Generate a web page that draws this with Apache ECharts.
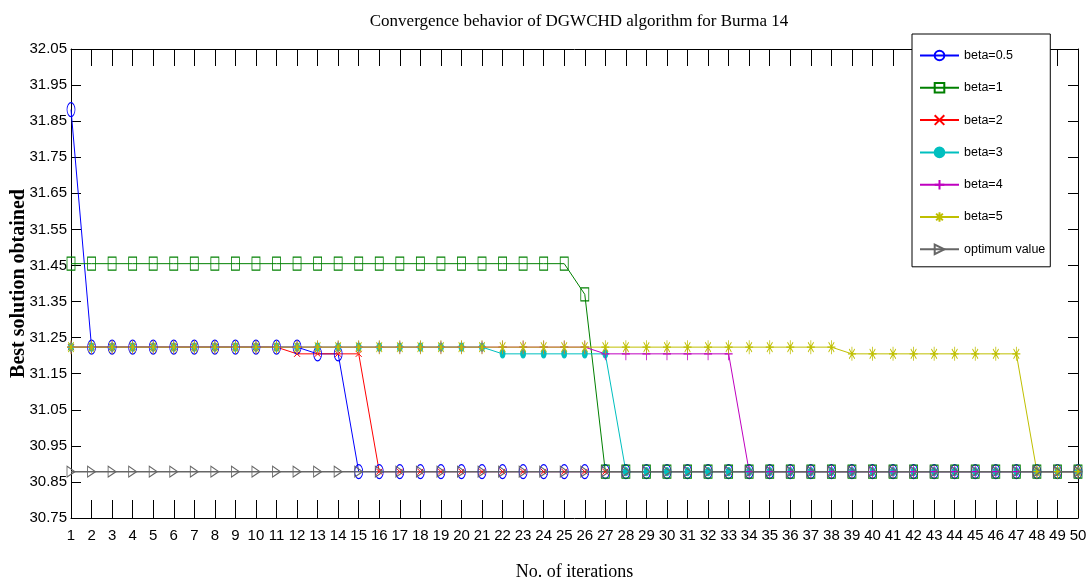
<!DOCTYPE html>
<html><head><meta charset="utf-8">
<script src="https://cdn.jsdelivr.net/npm/echarts@6/dist/echarts.min.js"></script>
<style>html,body{margin:0;padding:0;background:#fff}#c{width:1088px;height:582px}</style>
</head><body><div id="c"></div>
<script>
const iterations = [1,2,3,4,5,6,7,8,9,10,11,12,13,14,15,16,17,18,19,20,21,22,23,24,25,26,27,28,29,30,31,32,33,34,35,36,37,38,39,40,41,42,43,44,45,46,47,48,49,50];
const yTicks = [30.75,30.85,30.95,31.05,31.15,31.25,31.35,31.45,31.55,31.65,31.75,31.85,31.95,32.05];
const seriesNames = ['beta=0.5','beta=1','beta=2','beta=3','beta=4','beta=5','optimum value'];

const beta05 = [31.882,31.2236,31.2236,31.2236,31.2236,31.2236,31.2236,31.2236,31.2236,31.2236,31.2236,31.2236,31.205,31.205,30.8785,30.8785,30.8785,30.8785,30.8785,30.8785,30.8785,30.8785,30.8785,30.8785,30.8785,30.8785,30.8785,30.8785,30.8785,30.8785,30.8785,30.8785,30.8785,30.8785,30.8785,30.8785,30.8785,30.8785,30.8785,30.8785,30.8785,30.8785,30.8785,30.8785,30.8785,30.8785,30.8785,30.8785,30.8785,30.8785];
const beta1 = [31.455,31.455,31.455,31.455,31.455,31.455,31.455,31.455,31.455,31.455,31.455,31.455,31.455,31.455,31.455,31.455,31.455,31.455,31.455,31.455,31.455,31.455,31.455,31.455,31.455,31.37,30.8785,30.8785,30.8785,30.8785,30.8785,30.8785,30.8785,30.8785,30.8785,30.8785,30.8785,30.8785,30.8785,30.8785,30.8785,30.8785,30.8785,30.8785,30.8785,30.8785,30.8785,30.8785,30.8785,30.8785];
const beta2 = [31.2236,31.2236,31.2236,31.2236,31.2236,31.2236,31.2236,31.2236,31.2236,31.2236,31.2236,31.205,31.205,31.205,31.205,30.8785,30.8785,30.8785,30.8785,30.8785,30.8785,30.8785,30.8785,30.8785,30.8785,30.8785,30.8785,30.8785,30.8785,30.8785,30.8785,30.8785,30.8785,30.8785,30.8785,30.8785,30.8785,30.8785,30.8785,30.8785,30.8785,30.8785,30.8785,30.8785,30.8785,30.8785,30.8785,30.8785,30.8785,30.8785];
const beta3 = [31.2236,31.2236,31.2236,31.2236,31.2236,31.2236,31.2236,31.2236,31.2236,31.2236,31.2236,31.2236,31.2236,31.2236,31.2236,31.2236,31.2236,31.2236,31.2236,31.2236,31.2236,31.205,31.205,31.205,31.205,31.205,31.205,30.8785,30.8785,30.8785,30.8785,30.8785,30.8785,30.8785,30.8785,30.8785,30.8785,30.8785,30.8785,30.8785,30.8785,30.8785,30.8785,30.8785,30.8785,30.8785,30.8785,30.8785,30.8785,30.8785];
const beta4 = [31.2236,31.2236,31.2236,31.2236,31.2236,31.2236,31.2236,31.2236,31.2236,31.2236,31.2236,31.2236,31.2236,31.2236,31.2236,31.2236,31.2236,31.2236,31.2236,31.2236,31.2236,31.2236,31.2236,31.2236,31.2236,31.2236,31.205,31.205,31.205,31.205,31.205,31.205,31.205,30.8785,30.8785,30.8785,30.8785,30.8785,30.8785,30.8785,30.8785,30.8785,30.8785,30.8785,30.8785,30.8785,30.8785,30.8785,30.8785,30.8785];
const beta5 = [31.2236,31.2236,31.2236,31.2236,31.2236,31.2236,31.2236,31.2236,31.2236,31.2236,31.2236,31.2236,31.2236,31.2236,31.2236,31.2236,31.2236,31.2236,31.2236,31.2236,31.2236,31.2236,31.2236,31.2236,31.2236,31.2236,31.2236,31.2236,31.2236,31.2236,31.2236,31.2236,31.2236,31.2236,31.2236,31.2236,31.2236,31.2236,31.205,31.205,31.205,31.205,31.205,31.205,31.205,31.205,31.205,30.8785,30.8785,30.8785];
const optimum = [30.8785,30.8785,30.8785,30.8785,30.8785,30.8785,30.8785,30.8785,30.8785,30.8785,30.8785,30.8785,30.8785,30.8785,30.8785,30.8785,30.8785,30.8785,30.8785,30.8785,30.8785,30.8785,30.8785,30.8785,30.8785,30.8785,30.8785,30.8785,30.8785,30.8785,30.8785,30.8785,30.8785,30.8785,30.8785,30.8785,30.8785,30.8785,30.8785,30.8785,30.8785,30.8785,30.8785,30.8785,30.8785,30.8785,30.8785,30.8785,30.8785,30.8785];

const SANS = '"Liberation Sans",Arial,sans-serif';
const SERIF = '"Liberation Serif","Times New Roman",serif';

function mk(name, values, color, symbol, size, hollow, lw, rotate) {
  return {
    name: name, type: 'line', xAxisIndex: 0, yAxisIndex: 0,
    data: iterations.map((x, i) => [x, values[i]]),
    symbol: symbol, symbolSize: size, symbolRotate: rotate || 0, showAllSymbol: true,
    lineStyle: { color: color, width: lw || 1 },
    itemStyle: hollow ? { color: 'rgba(0,0,0,0)', borderColor: color, borderWidth: 1 } : { color: color, borderColor: color, borderWidth: 1 },
    emphasis: { disabled: true }, animation: false
  };
}
const X_PATH = 'path://M0,0L10,10M10,0L0,10';
const PLUS_PATH = 'path://M5,0L5,10M0,5L10,5';
const STAR_PATH = 'path://M5,0L5,10M0,5L10,5M1.5,1.5L8.5,8.5M8.5,1.5L1.5,8.5';

const chart = echarts.init(document.getElementById('c'));
chart.setOption({
  backgroundColor: '#fff',
  animation: false,
  title: { text: 'Convergence behavior of DGWCHD algorithm for Burma 14', left: 574, textAlign: 'center', top: 8,
    textStyle: { fontFamily: SERIF, fontSize: 17, fontWeight: 'normal', color: '#000' } },
  grid: { left: 71, right: 10, top: 49, bottom: 64, containLabel: false, outerBoundsMode: 'none' },
  legend: { orient: 'vertical', left: 912, top: 34, padding: [15, 5, 11, 7], itemWidth: 39, itemHeight: 12, itemGap: 19.3,
    backgroundColor: '#fff', borderColor: '#000', borderWidth: 1, borderRadius: 0,
    textStyle: { fontFamily: SANS, fontSize: 12.5, color: '#000' }, data: seriesNames },
  xAxis: [
    { type: 'value', min: 1, max: 50, interval: 1, position: 'bottom',
      axisLine: { lineStyle: { color: '#000', width: 1 } },
      axisTick: { inside: true, length: 18, lineStyle: { color: '#000' } },
      axisLabel: { fontFamily: SANS, fontSize: 15, color: '#000', margin: 10 },
      splitLine: { show: false },
      name: 'No. of iterations', nameLocation: 'middle', nameGap: 45, nameMoveOverlap: false,
      nameTextStyle: { fontFamily: SERIF, fontSize: 18, color: '#000' } },
    { type: 'value', min: 1, max: 50, interval: 1, position: 'top',
      axisLine: { lineStyle: { color: '#000', width: 1 } },
      axisTick: { inside: true, length: 17, lineStyle: { color: '#000' } },
      axisLabel: { show: false }, splitLine: { show: false } }
  ],
  yAxis: [
    { type: 'value', min: 30.75, max: 32.05, position: 'left',
      axisLine: { lineStyle: { color: '#000', width: 1 } },
      axisTick: { inside: true, length: 10, customValues: yTicks, lineStyle: { color: '#000' } },
      axisLabel: { customValues: yTicks, formatter: v => v.toFixed(2), fontFamily: SANS, fontSize: 15, color: '#000', margin: 4 },
      splitLine: { show: false },
      name: 'Best solution obtained', nameLocation: 'middle', nameGap: 42, nameMoveOverlap: false,
      nameTextStyle: { fontFamily: SERIF, fontSize: 20, fontWeight: 'bold', color: '#000' } },
    { type: 'value', min: 30.75, max: 32.05, position: 'right',
      axisLine: { lineStyle: { color: '#000', width: 1 } },
      axisTick: { inside: true, length: 10, customValues: yTicks, lineStyle: { color: '#000' } },
      axisLabel: { show: false }, splitLine: { show: false } }
  ],
  series: [
    mk(seriesNames[0], beta05, '#0000ff', 'circle', [8, 14], true),
    mk(seriesNames[1], beta1, '#008000', 'rect', [8, 13], true),
    mk(seriesNames[2], beta2, '#ff0000', X_PATH, [6, 6], true),
    mk(seriesNames[3], beta3, '#00bfbf', 'circle', [5, 8], false),
    mk(seriesNames[4], beta4, '#bf00bf', PLUS_PATH, [8, 13], true),
    mk(seriesNames[5], beta5, '#bfbf00', STAR_PATH, [8, 14], true),
    mk(seriesNames[6], optimum, '#666666', 'triangle', [11, 8], true, 1.5, -90)
  ]
});
</script></body></html>
